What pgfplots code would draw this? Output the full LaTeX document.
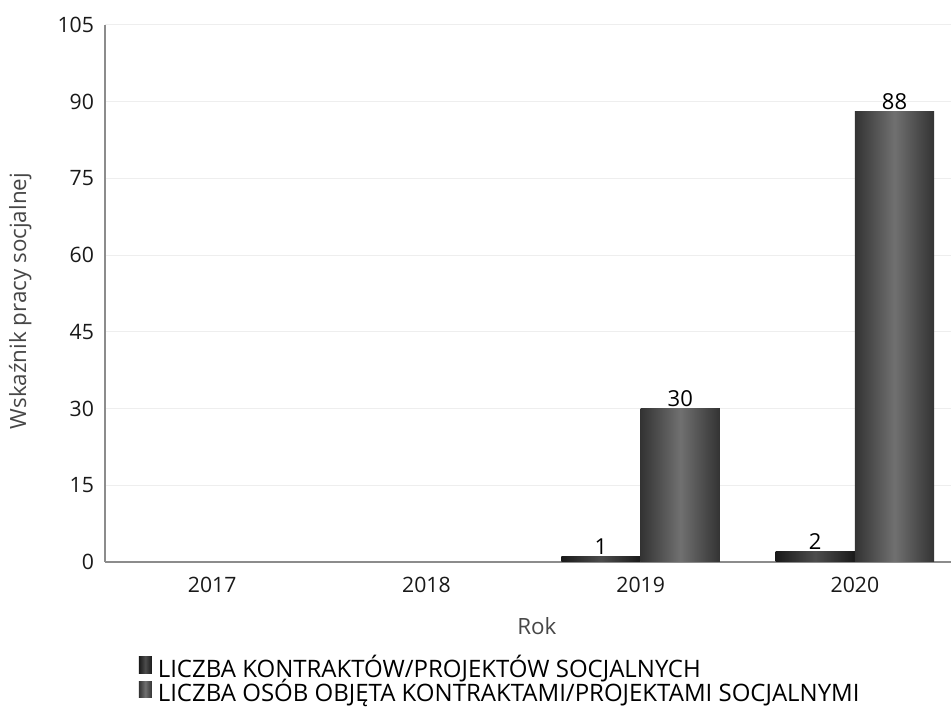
\documentclass[border=0pt]{standalone}
\usepackage{pgfplots}
\pgfplotsset{compat=1.18}
\usepackage{fontspec}
\setmainfont{Open Sans}

\definecolor{axisgray}{HTML}{8C8C8C}
\definecolor{gridgray}{HTML}{EEEEEE}

% one bar per \addplot, so that every bar gets its own cylinder shading
\pgfplotsset{
  kontr/.style={draw=none, left color=black!90, right color=black!90, middle color=black!70},
  osoby/.style={draw=none, left color=black!80, right color=black!80, middle color=black!56},
}

\begin{document}
\begin{tikzpicture}[x=0.5pt,y=0.5pt]
  \path[use as bounding box] (0,0) rectangle (951,710);
  \begin{axis}[
      at={(52.5pt,74pt)}, anchor=south west,
      scale only axis,
      width=428.5pt, height=268.5pt,
      ymin=0, ymax=105,
      ytick={0,15,...,105},
      xmin=-0.5, xmax=3.5,
      xtick={0,1,2,3},
      xticklabels={2017,2018,2019,2020},
      major tick length=0pt,
      axis x line*=bottom, axis y line*=left,
      axis line style={draw=axisgray, line width=0.6pt, -},
      ymajorgrids, grid style={draw=gridgray, line width=0.5pt},
      ybar, bar width=0.37,
      tick label style={font=\fontsize{10.6}{12}\selectfont, text=black!90},
      /pgf/number format/assume math mode=true,
      yticklabel style={xshift=-2pt},
      xticklabel style={yshift=-4pt},
      xlabel={Rok},
      ylabel={Wskaźnik pracy socjalnej},
      label style={font=\fontsize{11.2}{13}\selectfont, text=black!72},
      xlabel style={at={(axis description cs:0.504,-0.119)}, anchor=center},
      ylabel style={at={(axis description cs:-0.099,0.486)}, anchor=center},
      nodes near coords,
      every node near coord/.append style={font=\fontsize{11}{13}\selectfont, text=black, yshift=-2.5pt},
      legend style={at={(axis description cs:0.039,-0.176)}, anchor=north west,
        draw=none, fill=none, font=\fontsize{12}{12}\selectfont,
        nodes={text height=7.6pt, text depth=1.2pt, inner sep=0.5pt},
        /tikz/every odd column/.append style={column sep=2.5pt},
        legend cell align=left, row sep=0pt, inner sep=0pt},
      legend image code/.code={\path[#1, draw=none] (0pt,-1pt) rectangle (6.5pt,7.2pt);},
      clip=false,
    ]
    \addplot[kontr, bar shift=-0.185] coordinates {(2,1)};
    \addplot[osoby, bar shift=0.185] coordinates {(2,30)};
    \addplot[kontr, bar shift=-0.185, forget plot] coordinates {(3,2)};
    \addplot[osoby, bar shift=0.185, forget plot] coordinates {(3,88)};
    \legend{LICZBA KONTRAKTÓW/PROJEKTÓW SOCJALNYCH,
            LICZBA OSÓB OBJĘTA KONTRAKTAMI/PROJEKTAMI SOCJALNYMI}
  \end{axis}
\end{tikzpicture}
\end{document}
